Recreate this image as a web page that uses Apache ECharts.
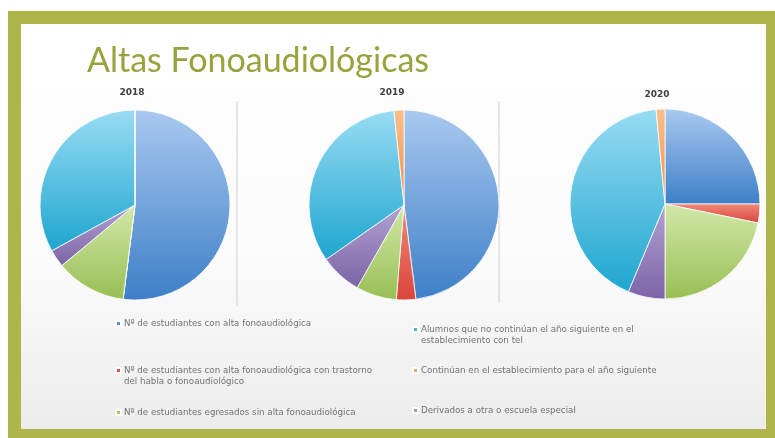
<!DOCTYPE html>
<html>
<head>
<meta charset="utf-8">
<script src="https://cdn.jsdelivr.net/npm/echarts@6/dist/echarts.min.js"></script>
<style>
  html, body { margin: 0; padding: 0; background: #fff; }
  #main { width: 775px; height: 438px; }
</style>
</head>
<body>
<div id="main"></div>
<script>
// categorias en el orden de la torta (sentido horario desde las 12)
var categories = [
  'Nº de estudiantes con alta fonoaudiológica',
  'Nº de estudiantes con alta fonoaudiológica con trastorno del habla o fonoaudiológico',
  'Nº de estudiantes egresados sin alta fonoaudiológica',
  'Derivados a otra o escuela especial',
  'Alumnos que no continúan el año siguiente en el establecimiento con tel',
  'Continúan en el establecimiento para el año siguiente'
];
var years = ['2018', '2019', '2020'];
var values2018 = [52, 0, 12, 3, 33, 0];
var values2019 = [48, 3.3, 6.9, 7.1, 33, 1.7];
var values2020 = [25, 3.2, 21.8, 6.3, 42.2, 1.5];

// colores estilo office (claro arriba, oscuro abajo)
var palette = [
  ['#a9c9ef', '#3d7fc7'],
  ['#f08a7a', '#d9453a'],
  ['#d3e8a8', '#97bf55'],
  ['#b3a3d3', '#7c63a6'],
  ['#98dcf3', '#1ea6cf'],
  ['#fbc08d', '#f08d45']
];
var markerColors = ['#4f8fd6', '#e0584c', '#a6c863', '#8da3c4', '#3db4d9', '#f4a060'];

function grad(c) {
  return new echarts.graphic.LinearGradient(0, 0, 0, 1, [
    { offset: 0, color: c[0] },
    { offset: 1, color: c[1] }
  ]);
}

function makeData(values) {
  return values.map(function (v, i) {
    return { name: categories[i], value: v, itemStyle: { color: grad(palette[i]) } };
  });
}

var centers = [[135, 205], [404, 205], [665, 204]];
var allValues = [values2018, values2019, values2020];

var series = allValues.map(function (vals, k) {
  return {
    name: years[k],
    type: 'pie',
    radius: 95,
    center: centers[k],
    startAngle: 90,
    clockwise: true,
    label: { show: false },
    labelLine: { show: false },
    emphasis: { disabled: true },
    itemStyle: { borderColor: '#fff', borderWidth: 0.8 },
    data: makeData(vals)
  };
});

// nombres largos en dos lineas (linea vacia arriba para que el cuadrito quede en la primera)
var wrapNames = {};
wrapNames[categories[1]] = '\nNº de estudiantes con alta fonoaudiológica con trastorno\ndel habla o fonoaudiológico';
wrapNames[categories[4]] = '\nAlumnos que no continúan el año siguiente en el\nestablecimiento con tel';

// posiciones de la leyenda: [categoria, left, top]
var legendPos = [
  [0, 115, 318],
  [1, 115, 354],
  [2, 115, 407],
  [4, 412, 313],
  [5, 412, 365],
  [3, 412, 405]
];

var legends = legendPos.map(function (p) {
  return {
    data: [{ name: categories[p[0]], itemStyle: { color: markerColors[p[0]] } }],
    left: p[1],
    top: p[2],
    padding: 0,
    icon: 'rect',
    itemWidth: 5,
    itemHeight: 5,
    itemGap: 4,
    selectedMode: false,
    formatter: function (name) { return wrapNames[name] || name; },
    textStyle: { fontFamily: 'DejaVu Sans', fontSize: 8.7, color: '#727272', lineHeight: 11, padding: [0, 0, 0, -2] }
  };
});

var titleX = [132, 392, 657];
var titleY = [88, 88, 90];
var titles = [{
  text: 'Altas Fonoaudiológicas',
  left: 87,
  top: 44,
  padding: 0,
  textStyle: { fontFamily: 'Lato', fontSize: 34, fontWeight: 'normal', color: '#97a33d' }
}].concat(years.map(function (y, i) {
  return {
    text: y,
    left: titleX[i],
    top: titleY[i],
    padding: 0,
    textAlign: 'center',
    textStyle: { fontFamily: 'DejaVu Sans', fontSize: 9, fontWeight: 'bold', color: '#3f3f3f' }
  };
}));

var chart = echarts.init(document.getElementById('main'));
chart.setOption({
  animation: false,
  backgroundColor: '#fff',
  title: titles,
  legend: legends,
  graphic: [
    { type: 'rect', z: -10, shape: { x: 8, y: 11, width: 767, height: 427 }, style: { fill: '#adb54b' } },
    { type: 'rect', z: -9, shape: { x: 21, y: 24, width: 745, height: 405 },
      style: { fill: new echarts.graphic.LinearGradient(0, 0, 0, 1, [
        { offset: 0, color: '#ffffff' }, { offset: 0.6, color: '#fbfbfb' }, { offset: 1, color: '#ececec' }
      ]) } },
    { type: 'line', z: -8, shape: { x1: 237, y1: 101, x2: 237, y2: 306 }, style: { stroke: '#cfcfcf', lineWidth: 1 } },
    { type: 'line', z: -8, shape: { x1: 499, y1: 101, x2: 499, y2: 303 }, style: { stroke: '#cfcfcf', lineWidth: 1 } }
  ],
  series: series
});
</script>
</body>
</html>
